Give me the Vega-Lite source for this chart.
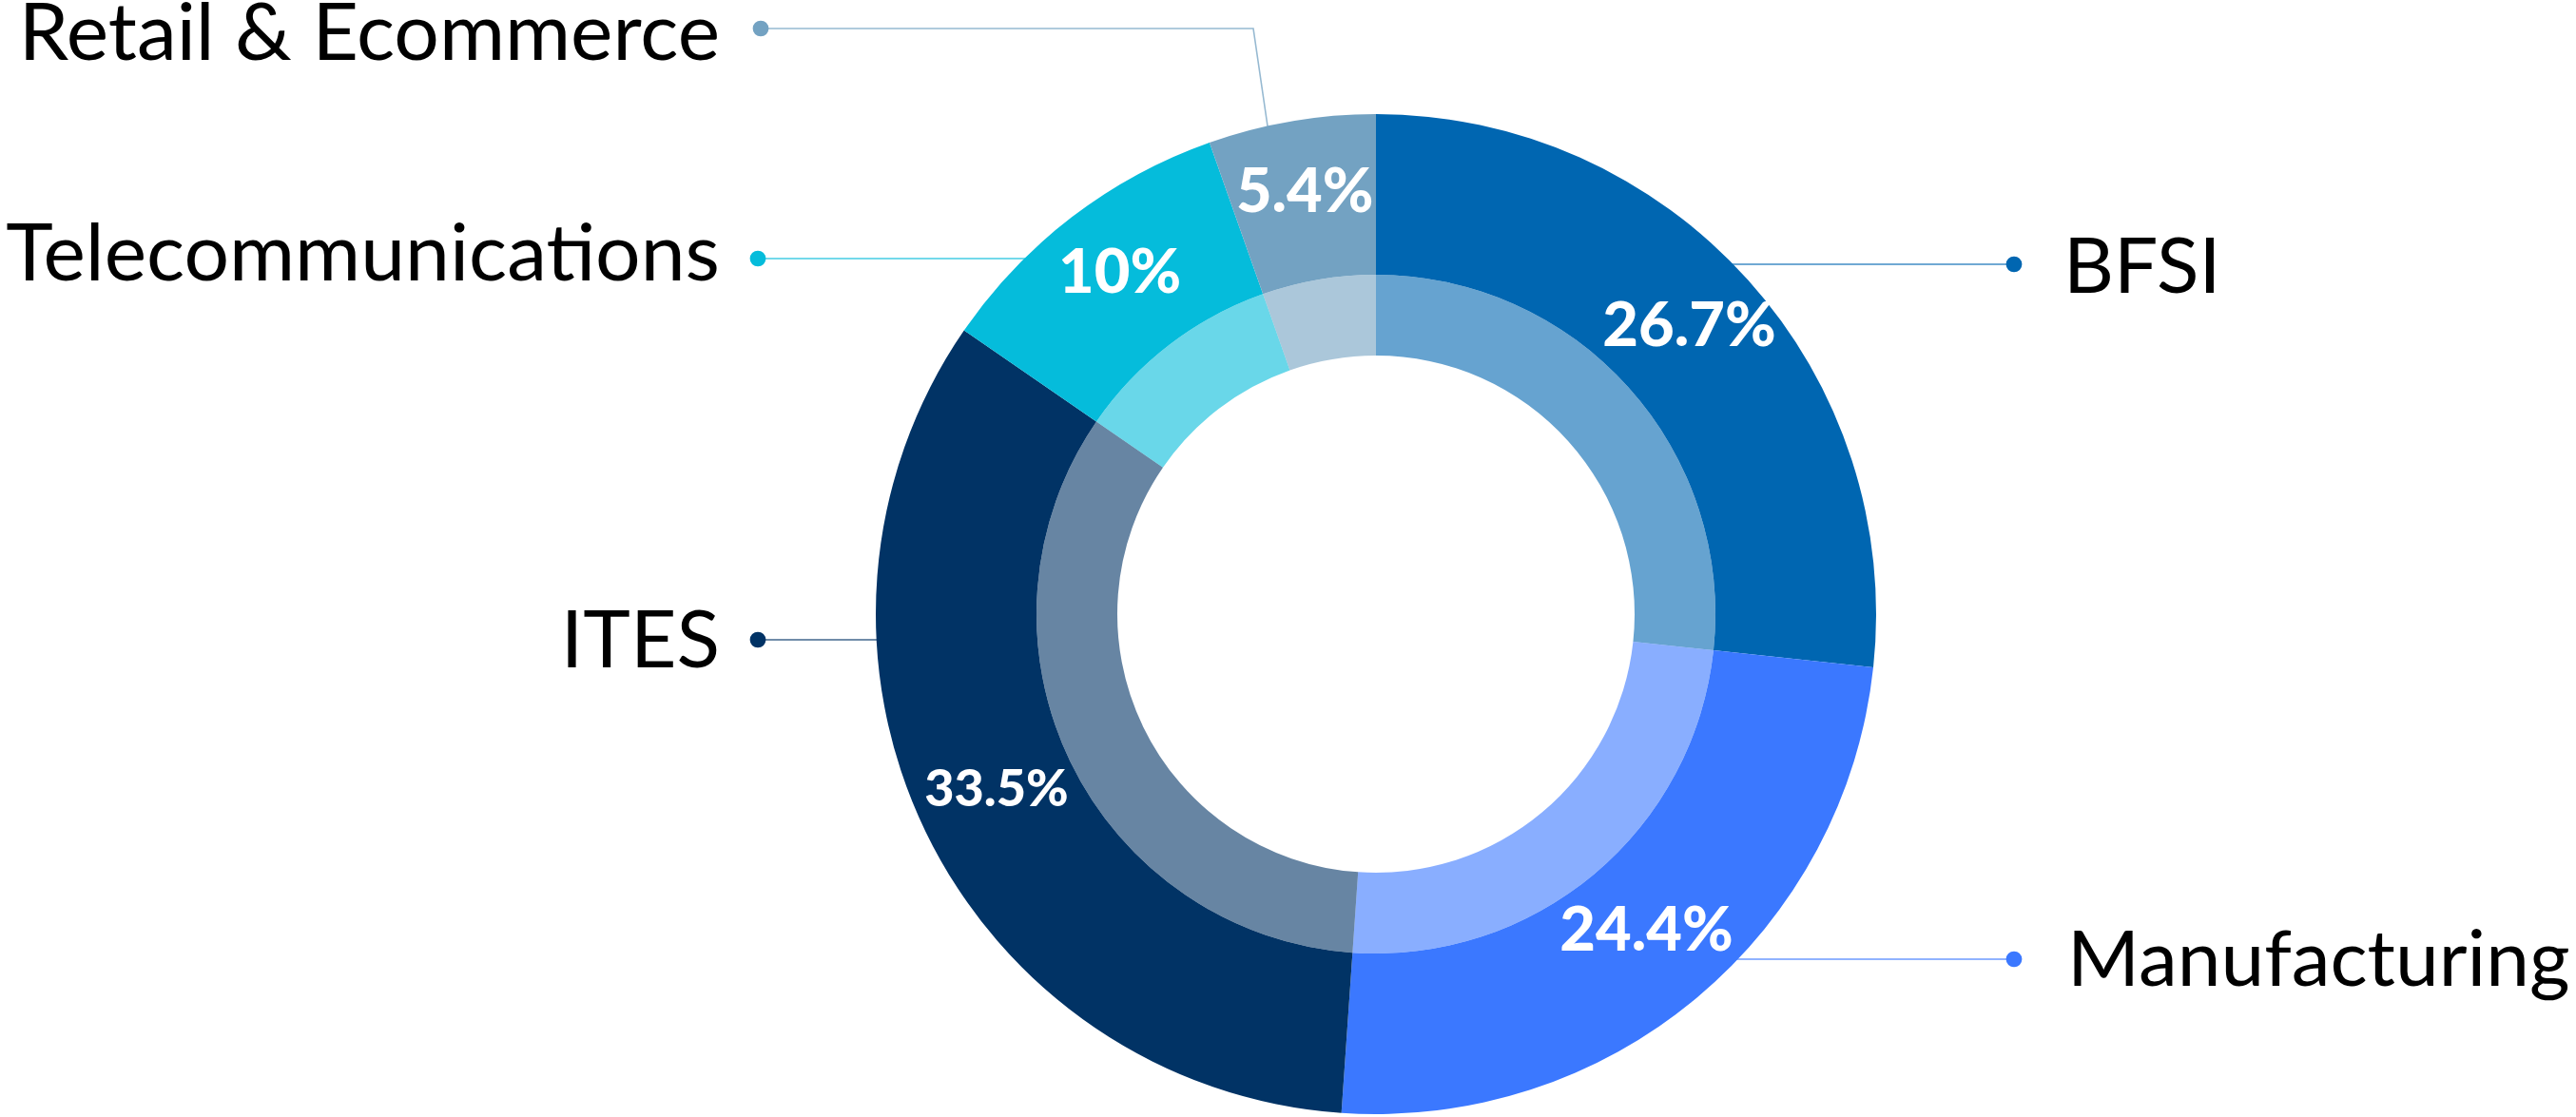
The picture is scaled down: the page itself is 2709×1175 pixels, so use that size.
{
  "$schema": "https://vega.github.io/schema/vega-lite/v6.json",
  "width": 2524,
  "height": 1058,
  "autosize": {"type": "none"},
  "padding": {"left": 185, "top": 117, "right": 0, "bottom": 0},
  "background": "white",
  "config": {"view": {"stroke": null}},
  "datasets": {
    "segments": [
      {"category": "BFSI", "rank": 1, "share": 26.7, "label": "26.7%"},
      {"category": "Manufacturing", "rank": 2, "share": 24.4, "label": "24.4%"},
      {"category": "ITES", "rank": 3, "share": 33.5, "label": "33.5%"},
      {"category": "Telecommunications", "rank": 4, "share": 10, "label": "10%"},
      {"category": "Retail & Ecommerce", "rank": 5, "share": 5.4, "label": "5.4%"}
    ],
    "leaders": [
      {"category": "Retail & Ecommerce", "step": 1, "x": -647, "y": 616},
      {"category": "Retail & Ecommerce", "step": 2, "x": -129, "y": 616},
      {"category": "Retail & Ecommerce", "step": 3, "x": -110, "y": 486},
      {"category": "Telecommunications", "step": 1, "x": -650, "y": 374},
      {"category": "Telecommunications", "step": 2, "x": -327, "y": 374},
      {"category": "ITES", "step": 1, "x": -650, "y": -27},
      {"category": "ITES", "step": 2, "x": -447, "y": -27},
      {"category": "BFSI", "step": 1, "x": 671, "y": 368},
      {"category": "BFSI", "step": 2, "x": 353, "y": 368},
      {"category": "Manufacturing", "step": 1, "x": 671, "y": -363},
      {"category": "Manufacturing", "step": 2, "x": 353, "y": -363}
    ],
    "anchors": [
      {"category": "Retail & Ecommerce", "dot_x": -647, "dot_y": 616, "text_x": -690, "text_y": 583},
      {"category": "Telecommunications", "dot_x": -650, "dot_y": 374, "text_x": -690, "text_y": 351},
      {"category": "ITES", "dot_x": -650, "dot_y": -27, "text_x": -690, "text_y": -56},
      {"category": "BFSI", "dot_x": 671, "dot_y": 368, "text_x": 723, "text_y": 338},
      {"category": "Manufacturing", "dot_x": 671, "dot_y": -363, "text_x": 727, "text_y": -391}
    ]
  },
  "layer": [
    {
      "data": {"name": "leaders"},
      "mark": {"type": "line", "strokeWidth": 1.6, "opacity": 0.75},
      "encoding": {
        "x": {"field": "x", "type": "quantitative", "scale": {"domain": [-1262, 1262], "nice": false, "zero": false}, "axis": null},
        "y": {"field": "y", "type": "quantitative", "scale": {"domain": [-529, 529], "nice": false, "zero": false}, "axis": null},
        "color": {"field": "category", "type": "nominal", "legend": null,
          "scale": {"domain": ["BFSI", "Manufacturing", "ITES", "Telecommunications", "Retail & Ecommerce"],
                    "range": ["#0066B1", "#3B78FF", "#013365", "#05BCDB", "#73A2C2"]}},
        "detail": {"field": "category"},
        "order": {"field": "step", "type": "quantitative"}
      }
    },
    {
      "data": {"name": "segments"},
      "mark": {"type": "arc", "radius": 526, "radius2": 357},
      "encoding": {
        "theta": {"field": "share", "type": "quantitative", "stack": true},
        "color": {"field": "category", "type": "nominal", "legend": null},
        "order": {"field": "rank", "type": "quantitative"}
      }
    },
    {
      "data": {"name": "segments"},
      "mark": {"type": "arc", "radius": 357, "radius2": 272, "opacity": 0.6},
      "encoding": {
        "theta": {"field": "share", "type": "quantitative", "stack": true},
        "color": {"field": "category", "type": "nominal", "legend": null},
        "order": {"field": "rank", "type": "quantitative"}
      }
    },
    {
      "data": {"name": "segments"},
      "mark": {"type": "text", "radius": 443, "font": "Lato", "fontWeight": 900, "fontSize": 65, "fill": "white", "align": "center", "baseline": "middle", "dy": -6},
      "encoding": {
        "theta": {"field": "share", "type": "quantitative", "stack": true},
        "order": {"field": "rank", "type": "quantitative"},
        "detail": {"field": "category"},
        "text": {"field": "label"},
        "size": {"condition": {"test": "datum.category === 'ITES'", "value": 54}, "value": 65}
      }
    },
    {
      "data": {"name": "anchors"},
      "mark": {"type": "point", "filled": true, "size": 280, "opacity": 1, "shape": "circle"},
      "encoding": {
        "x": {"field": "dot_x", "type": "quantitative"},
        "y": {"field": "dot_y", "type": "quantitative"},
        "color": {"field": "category", "type": "nominal", "legend": null}
      }
    },
    {
      "data": {"name": "anchors"},
      "transform": [{"filter": "datum.text_x < 0"}],
      "mark": {"type": "text", "align": "right", "baseline": "alphabetic", "font": "Lato", "fontSize": 84, "fontWeight": 400, "fill": "#000000"},
      "encoding": {
        "x": {"field": "text_x", "type": "quantitative"},
        "y": {"field": "text_y", "type": "quantitative"},
        "text": {"field": "category"}
      }
    },
    {
      "data": {"name": "anchors"},
      "transform": [{"filter": "datum.text_x > 0"}],
      "mark": {"type": "text", "align": "left", "baseline": "alphabetic", "font": "Lato", "fontSize": 82, "fontWeight": 400, "fill": "#000000"},
      "encoding": {
        "x": {"field": "text_x", "type": "quantitative"},
        "y": {"field": "text_y", "type": "quantitative"},
        "text": {"field": "category"}
      }
    }
  ]
}
